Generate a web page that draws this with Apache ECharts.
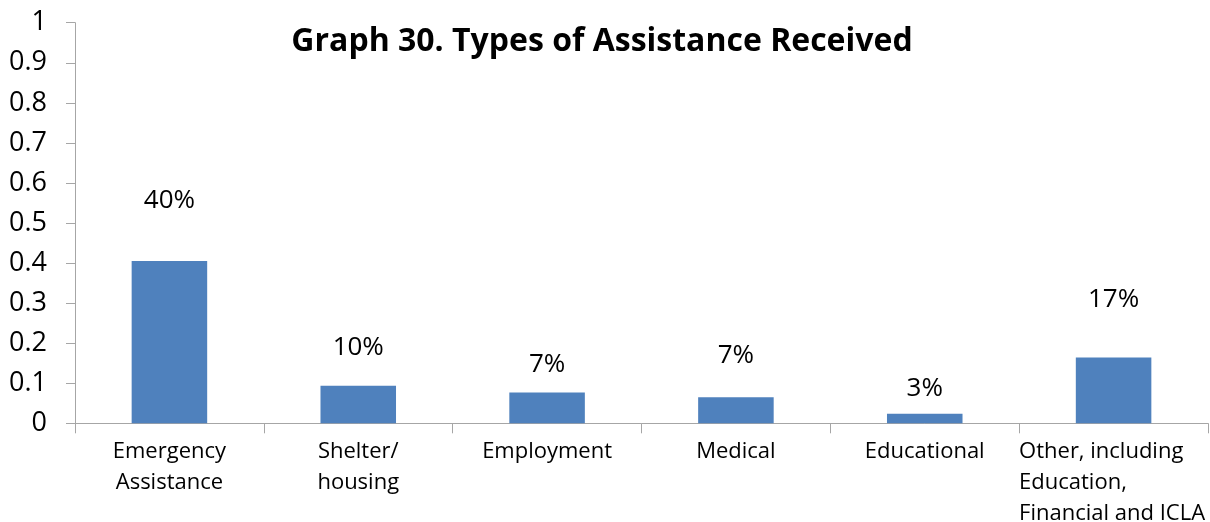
<!DOCTYPE html>
<html>
<head>
<meta charset="utf-8">
<script src="https://cdn.jsdelivr.net/npm/echarts@6/dist/echarts.min.js"></script>
<style>
html,body{margin:0;padding:0;background:#fff;overflow:hidden;}
#chart{width:1210px;height:522px;}
</style>
</head>
<body>
<div id="chart"></div>
<script>
// ---- data ----
var categories = ['Emergency\nAssistance', 'Shelter/\nhousing', 'Employment', 'Medical', 'Educational', 'Other, including\nEducation,\nFinancial and ICLA'];
var values = [0.405, 0.094, 0.077, 0.065, 0.024, 0.164];
var valueLabels = ['40%', '10%', '7%', '7%', '3%', '17%'];
var yTicks = [0, 0.1, 0.2, 0.3, 0.4, 0.5, 0.6, 0.7, 0.8, 0.9, 1];
var titleText = 'Graph 30. Types of Assistance Received';

// ---- style (label distances above bar tops, in px) ----
var labelDistances = [47, 25, 15, 29, 12, 45];

var FONT = '"Open Sans", "Noto Sans", sans-serif';
var axisGrey = '#a6a6a6';

var chart = echarts.init(document.getElementById('chart'), null, {renderer: 'canvas', width: 1210, height: 522});

var seriesData = values.map(function (v, i) {
  return {
    value: v,
    label: {
      show: true,
      position: 'top',
      distance: labelDistances[i],
      formatter: function () { return valueLabels[i]; }
    }
  };
});

var option = {
  backgroundColor: '#ffffff',
  animation: false,
  title: {
    text: titleText,
    left: 597,
    top: 21,
    textAlign: 'center',
    textStyle: {fontFamily: FONT, fontWeight: 'bold', fontSize: 32, color: '#000'}
  },
  grid: {left: 75, width: 1133, top: 22.7, height: 400.6, containLabel: false, outerBoundsMode: 'none'},
  xAxis: {
    type: 'category',
    data: categories,
    axisLine: {show: true, lineStyle: {color: axisGrey, width: 1}},
    axisTick: {show: true, alignWithLabel: false, length: 10, lineStyle: {color: axisGrey}},
    axisLabel: {
      interval: 0,
      margin: 13,
      fontFamily: FONT,
      fontSize: 22,
      lineHeight: 31,
      color: '#000',
      formatter: function (val) {
        if (val.indexOf('Other') === 0) {
          return val.split('\n').map(function (s) { return '{o|' + s + '}'; }).join('\n');
        }
        return val;
      },
      rich: {
        o: {width: 189, align: 'left', fontFamily: FONT, fontSize: 22, lineHeight: 31, color: '#000'}
      }
    }
  },
  yAxis: {
    type: 'value',
    min: yTicks[0],
    max: yTicks[yTicks.length - 1],
    interval: 0.1,
    axisLine: {show: true, lineStyle: {color: axisGrey, width: 1}},
    axisTick: {show: true, length: 9, lineStyle: {color: axisGrey}},
    splitLine: {show: false},
    axisLabel: {
      margin: 28,
      fontFamily: FONT,
      fontSize: 27,
      color: '#000',
      formatter: function (v) { return String(Math.round(v * 10) / 10); }
    }
  },
  series: [{
    type: 'bar',
    data: seriesData,
    barWidth: '40%',
    itemStyle: {color: '#4f81bd'},
    label: {fontFamily: FONT, fontSize: 26, color: '#000'}
  }]
};

chart.setOption(option);
</script>
</body>
</html>
